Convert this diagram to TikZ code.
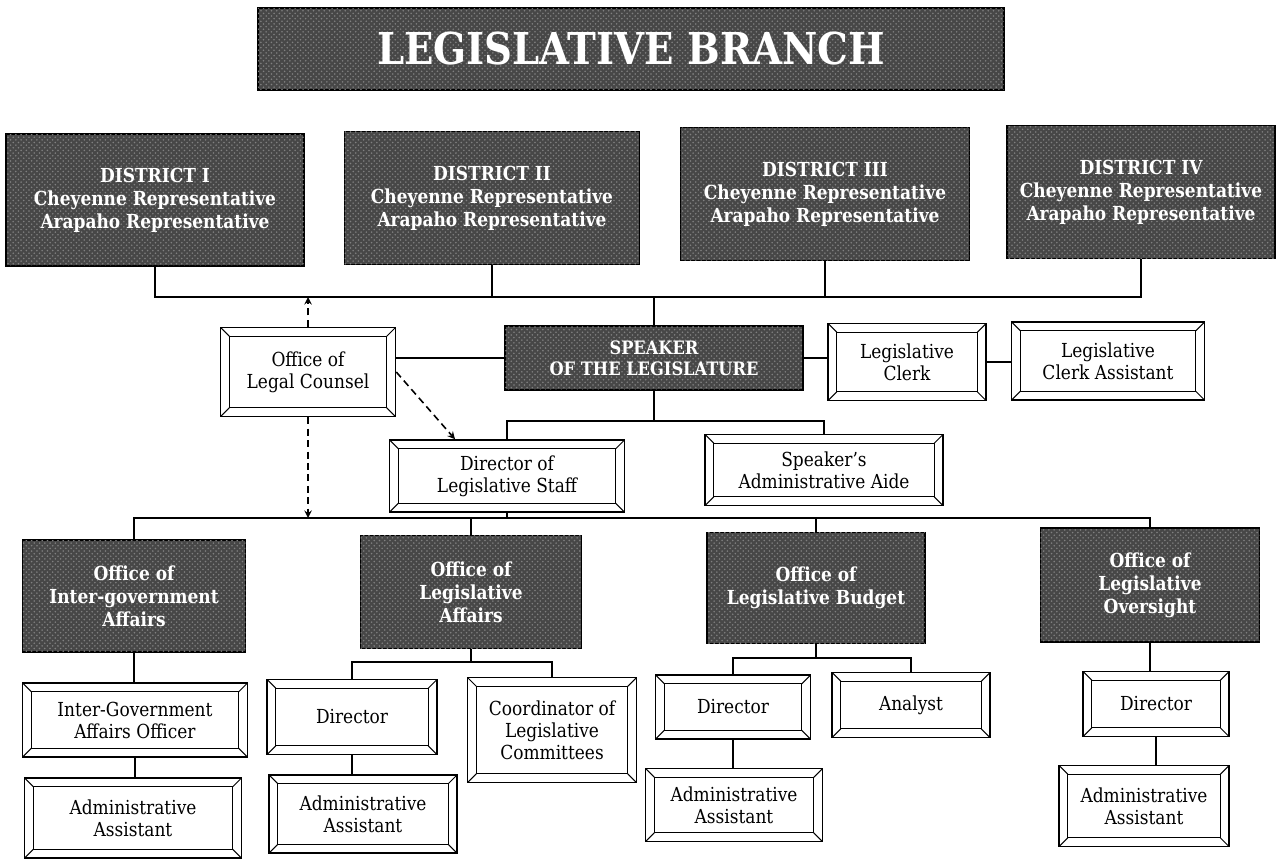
\documentclass[tikz,border=0pt]{standalone}
\usepackage{fontspec}
\setmainfont{DejaVu Serif}[FakeStretch=0.88]
\usetikzlibrary{arrows,positioning,calc,patterns}

\begin{document}
\begin{tikzpicture}[x=0.02cm,y=-0.02cm,>=stealth,
  dark/.style={draw,line width=0.8pt,fill=black!72,postaction={pattern=crosshatch dots,pattern color=black!50},
    text=white,align=center,inner sep=2pt,font=\bfseries\fontsize{11}{13}\selectfont},
  frame/.style={draw,line width=0.9pt,fill=white,align=center,inner sep=2pt,font=\fontsize{11}{12.5}\selectfont,
    path picture={
      \draw[line width=0.6pt] ([shift={(5pt,-5pt)}]path picture bounding box.north west) rectangle ([shift={(-5pt,5pt)}]path picture bounding box.south east);
      \draw[line width=0.6pt] (path picture bounding box.north west) -- ++(5pt,-5pt)
        (path picture bounding box.north east) -- ++(-5pt,-5pt)
        (path picture bounding box.south west) -- ++(5pt,5pt)
        (path picture bounding box.south east) -- ++(-5pt,5pt);}},
  link/.style={line width=0.8pt},
  dashlink/.style={line width=0.9pt,dash pattern=on 4pt off 2.5pt,->}]
\useasboundingbox (0,0) rectangle (1278,862);

\node[dark,minimum width=14.92cm,minimum height=1.64cm,font=\bfseries\fontsize{25}{30}\selectfont] (title) at (631,49) {LEGISLATIVE BRANCH};

\node[dark,minimum width=5.96cm,minimum height=2.64cm] (d1) at (155,200) {DISTRICT I\\Cheyenne Representative\\Arapaho Representative};
\node[dark,minimum width=5.9cm,minimum height=2.66cm] (d2) at (492,198) {DISTRICT II\\Cheyenne Representative\\Arapaho Representative};
\node[dark,minimum width=5.78cm,minimum height=2.66cm] (d3) at (825,194) {DISTRICT III\\Cheyenne Representative\\Arapaho Representative};
\node[dark,minimum width=5.36cm,minimum height=2.66cm] (d4) at (1141,192) {DISTRICT IV\\Cheyenne Representative\\Arapaho Representative};

\node[dark,minimum width=5.96cm,minimum height=1.28cm,font=\bfseries\fontsize{10.5}{12}\selectfont] (speaker) at (654,358) {SPEAKER\\OF THE LEGISLATURE};
\node[frame,minimum width=3.5cm,minimum height=1.78cm] (legal) at (308,372) {Office of\\Legal Counsel};
\node[frame,minimum width=3.16cm,minimum height=1.54cm] (clerk) at (907,362) {Legislative\\Clerk};
\node[frame,minimum width=3.86cm,minimum height=1.56cm] (clerkasst) at (1108,361) {Legislative\\Clerk Assistant};
\node[frame,minimum width=4.7cm,minimum height=1.44cm] (dirstaff) at (507,476) {Director of\\Legislative Staff};
\node[frame,minimum width=4.76cm,minimum height=1.42cm] (aide) at (824,470) {Speaker's\\Administrative Aide};

\node[dark,minimum width=4.46cm,minimum height=2.24cm] (iga) at (134,596) {Office of\\Inter-government\\Affairs};
\node[dark,minimum width=4.42cm,minimum height=2.26cm] (legaff) at (471,592) {Office of\\Legislative\\Affairs};
\node[dark,minimum width=4.36cm,minimum height=2.22cm] (budget) at (816,588) {Office of\\Legislative Budget};
\node[dark,minimum width=4.38cm,minimum height=2.28cm] (oversight) at (1150,585) {Office of\\Legislative\\Oversight};

\node[frame,minimum width=4.5cm,minimum height=1.48cm] (igaoff) at (135,720) {Inter-Government\\Affairs Officer};
\node[frame,minimum width=4.34cm,minimum height=1.6cm] (igaasst) at (133,818) {Administrative\\Assistant};
\node[frame,minimum width=3.4cm,minimum height=1.5cm] (ladir) at (352,717) {Director};
\node[frame,minimum width=3.38cm,minimum height=2.1cm] (coord) at (552,730) {Coordinator of\\Legislative\\Committees};
\node[frame,minimum width=3.76cm,minimum height=1.56cm] (laasst) at (363,814) {Administrative\\Assistant};
\node[frame,minimum width=3.1cm,minimum height=1.28cm] (bdir) at (733,707) {Director};
\node[frame,minimum width=3.16cm,minimum height=1.3cm] (analyst) at (911,705) {Analyst};
\node[frame,minimum width=3.54cm,minimum height=1.46cm] (basst) at (734,805) {Administrative\\Assistant};
\node[frame,minimum width=2.92cm,minimum height=1.3cm] (odir) at (1156,704) {Director};
\node[frame,minimum width=3.4cm,minimum height=1.62cm] (oasst) at (1144,806) {Administrative\\Assistant};

\coordinate (bus1) at (654,297);
\coordinate (bus2) at (654,421);
\coordinate (bus3) at (507,518);
\coordinate (bus4) at (471,662);
\coordinate (bus5) at (816,658);

\draw[link] (d1.south) -- (d1.south |- bus1) -- (d4.south |- bus1) -- (d4.south);
\draw[link] (d2.south) -- (d2.south |- bus1);
\draw[link] (d3.south) -- (d3.south |- bus1);
\draw[link] (bus1) -- (speaker.north);
\draw[link] (speaker.west) -- (speaker.west -| legal.east);
\draw[link] (speaker.east) -- (speaker.east -| clerk.west);
\draw[link] (clerk.east) -- (clerk.east -| clerkasst.west);
\draw[link] (speaker.south) -- (bus2);
\draw[link] (dirstaff.north) -- (dirstaff.north |- bus2) -- (aide.north |- bus2) -- (aide.north);
\draw[link] (dirstaff.south) -- (bus3);
\draw[link] (iga.north) -- (iga.north |- bus3) -- (oversight.north |- bus3) -- (oversight.north);
\draw[link] (legaff.north) -- (legaff.north |- bus3);
\draw[link] (budget.north) -- (budget.north |- bus3);
\draw[link] (iga.south) -- (iga.south |- igaoff.north);
\draw[link] (igaoff.south) -- (igaoff.south |- igaasst.north);
\draw[link] (legaff.south) -- (bus4);
\draw[link] (ladir.north) -- (ladir.north |- bus4) -- (coord.north |- bus4) -- (coord.north);
\draw[link] (ladir.south) -- (ladir.south |- laasst.north);
\draw[link] (budget.south) -- (bus5);
\draw[link] (bdir.north) -- (bdir.north |- bus5) -- (analyst.north |- bus5) -- (analyst.north);
\draw[link] (bdir.south) -- (bdir.south |- basst.north);
\draw[link] (oversight.south) -- (oversight.south |- odir.north);
\draw[link] (odir.south) -- (odir.south |- oasst.north);

\draw[dashlink] (legal.north) -- (legal.north |- bus1);
\draw[dashlink] (legal.east) -- ([xshift=-1.04cm]dirstaff.north);
\draw[dashlink] (legal.south) -- (legal.south |- bus3);
\end{tikzpicture}
\end{document}
